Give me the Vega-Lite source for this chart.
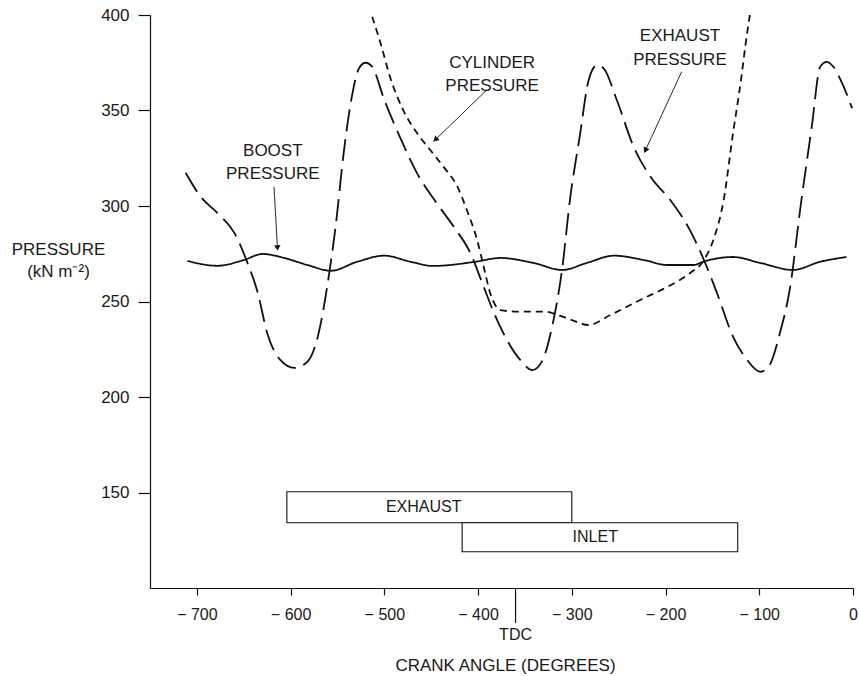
{
  "$schema": "https://vega.github.io/schema/vega-lite/v6.json",
  "width": 703,
  "height": 573,
  "autosize": {"type": "none"},
  "padding": {"left": 150, "top": 15, "right": 6, "bottom": 88},
  "background": "white",
  "config": {
    "view": {"stroke": null},
    "font": "Liberation Sans",
    "axis": {
      "domainColor": "#111", "tickColor": "#111", "domainWidth": 1.2, "tickWidth": 1.2,
      "labelColor": "#1a1a1a", "labelFont": "Liberation Sans", "labelFontSize": 16,
      "titleFont": "Liberation Sans", "titleFontSize": 16, "titleFontWeight": "normal", "titleColor": "#1a1a1a",
      "grid": false
    }
  },
  "datasets": {
    "curves": [
      {"series": "boost", "angle": -710, "pressure": 271.2},
      {"series": "boost", "angle": -678, "pressure": 268.7},
      {"series": "boost", "angle": -650, "pressure": 271.7},
      {"series": "boost", "angle": -630, "pressure": 274.9},
      {"series": "boost", "angle": -607, "pressure": 272.8},
      {"series": "boost", "angle": -582, "pressure": 269.1},
      {"series": "boost", "angle": -557, "pressure": 266.1},
      {"series": "boost", "angle": -529, "pressure": 270.8},
      {"series": "boost", "angle": -500, "pressure": 274.0},
      {"series": "boost", "angle": -472, "pressure": 270.8},
      {"series": "boost", "angle": -448, "pressure": 268.6},
      {"series": "boost", "angle": -403, "pressure": 270.8},
      {"series": "boost", "angle": -376, "pressure": 272.8},
      {"series": "boost", "angle": -341, "pressure": 270.2},
      {"series": "boost", "angle": -310, "pressure": 266.5},
      {"series": "boost", "angle": -284, "pressure": 270.2},
      {"series": "boost", "angle": -255, "pressure": 274.0},
      {"series": "boost", "angle": -223, "pressure": 271.7},
      {"series": "boost", "angle": -198, "pressure": 269.1},
      {"series": "boost", "angle": -170, "pressure": 269.1},
      {"series": "boost", "angle": -160, "pressure": 270.8},
      {"series": "boost", "angle": -128, "pressure": 273.3},
      {"series": "boost", "angle": -99, "pressure": 270.2},
      {"series": "boost", "angle": -64, "pressure": 266.5},
      {"series": "boost", "angle": -35, "pressure": 270.8},
      {"series": "boost", "angle": -7, "pressure": 273.3},
      {"series": "exhaust", "angle": -712, "pressure": 317.4},
      {"series": "exhaust", "angle": -696, "pressure": 304.9},
      {"series": "exhaust", "angle": -678, "pressure": 296.3},
      {"series": "exhaust", "angle": -660, "pressure": 285.9},
      {"series": "exhaust", "angle": -646, "pressure": 270.2},
      {"series": "exhaust", "angle": -635, "pressure": 254.5},
      {"series": "exhaust", "angle": -625, "pressure": 233.5},
      {"series": "exhaust", "angle": -611, "pressure": 219.4},
      {"series": "exhaust", "angle": -596, "pressure": 215.2},
      {"series": "exhaust", "angle": -582, "pressure": 218.5},
      {"series": "exhaust", "angle": -571, "pressure": 231.6},
      {"series": "exhaust", "angle": -561, "pressure": 257.7},
      {"series": "exhaust", "angle": -552, "pressure": 289.2},
      {"series": "exhaust", "angle": -543, "pressure": 329.3},
      {"series": "exhaust", "angle": -534, "pressure": 359.0},
      {"series": "exhaust", "angle": -527, "pressure": 372.1},
      {"series": "exhaust", "angle": -520, "pressure": 375.0},
      {"series": "exhaust", "angle": -513, "pressure": 372.9},
      {"series": "exhaust", "angle": -500, "pressure": 355.5},
      {"series": "exhaust", "angle": -482, "pressure": 334.6},
      {"series": "exhaust", "angle": -465, "pressure": 317.1},
      {"series": "exhaust", "angle": -444, "pressure": 301.4},
      {"series": "exhaust", "angle": -426, "pressure": 289.2},
      {"series": "exhaust", "angle": -408, "pressure": 275.2},
      {"series": "exhaust", "angle": -394, "pressure": 257.7},
      {"series": "exhaust", "angle": -383, "pressure": 244.0},
      {"series": "exhaust", "angle": -373, "pressure": 233.4},
      {"series": "exhaust", "angle": -355, "pressure": 219.4},
      {"series": "exhaust", "angle": -342, "pressure": 214.1},
      {"series": "exhaust", "angle": -332, "pressure": 218.5},
      {"series": "exhaust", "angle": -321, "pressure": 236.8},
      {"series": "exhaust", "angle": -310, "pressure": 268.2},
      {"series": "exhaust", "angle": -302, "pressure": 303.1},
      {"series": "exhaust", "angle": -291, "pressure": 338.1},
      {"series": "exhaust", "angle": -282, "pressure": 366.0},
      {"series": "exhaust", "angle": -273, "pressure": 373.8},
      {"series": "exhaust", "angle": -266, "pressure": 372.1},
      {"series": "exhaust", "angle": -252, "pressure": 355.5},
      {"series": "exhaust", "angle": -234, "pressure": 331.0},
      {"series": "exhaust", "angle": -216, "pressure": 315.3},
      {"series": "exhaust", "angle": -195, "pressure": 303.1},
      {"series": "exhaust", "angle": -174, "pressure": 287.4},
      {"series": "exhaust", "angle": -159, "pressure": 271.7},
      {"series": "exhaust", "angle": -145, "pressure": 254.3},
      {"series": "exhaust", "angle": -128, "pressure": 231.6},
      {"series": "exhaust", "angle": -113, "pressure": 219.4},
      {"series": "exhaust", "angle": -99, "pressure": 213.2},
      {"series": "exhaust", "angle": -90, "pressure": 215.9},
      {"series": "exhaust", "angle": -78, "pressure": 233.4},
      {"series": "exhaust", "angle": -67, "pressure": 257.7},
      {"series": "exhaust", "angle": -56, "pressure": 299.6},
      {"series": "exhaust", "angle": -44, "pressure": 341.5},
      {"series": "exhaust", "angle": -35, "pressure": 372.9},
      {"series": "exhaust", "angle": -28, "pressure": 375.5},
      {"series": "exhaust", "angle": -21, "pressure": 372.9},
      {"series": "exhaust", "angle": -10, "pressure": 362.5},
      {"series": "exhaust", "angle": -1, "pressure": 351.2},
      {"series": "cylinder", "angle": -513, "pressure": 399.1},
      {"series": "cylinder", "angle": -504, "pressure": 385.2},
      {"series": "cylinder", "angle": -494, "pressure": 367.7},
      {"series": "cylinder", "angle": -480, "pressure": 350.3},
      {"series": "cylinder", "angle": -465, "pressure": 338.1},
      {"series": "cylinder", "angle": -451, "pressure": 329.3},
      {"series": "cylinder", "angle": -437, "pressure": 320.6},
      {"series": "cylinder", "angle": -422, "pressure": 310.1},
      {"series": "cylinder", "angle": -412, "pressure": 297.9},
      {"series": "cylinder", "angle": -401, "pressure": 282.2},
      {"series": "cylinder", "angle": -394, "pressure": 268.2},
      {"series": "cylinder", "angle": -387, "pressure": 254.3},
      {"series": "cylinder", "angle": -376, "pressure": 245.5},
      {"series": "cylinder", "angle": -358, "pressure": 244.7},
      {"series": "cylinder", "angle": -330, "pressure": 244.7},
      {"series": "cylinder", "angle": -305, "pressure": 241.2},
      {"series": "cylinder", "angle": -282, "pressure": 237.7},
      {"series": "cylinder", "angle": -259, "pressure": 242.9},
      {"series": "cylinder", "angle": -227, "pressure": 250.8},
      {"series": "cylinder", "angle": -198, "pressure": 257.7},
      {"series": "cylinder", "angle": -174, "pressure": 264.8},
      {"series": "cylinder", "angle": -159, "pressure": 271.7},
      {"series": "cylinder", "angle": -149, "pressure": 282.2},
      {"series": "cylinder", "angle": -138, "pressure": 303.1},
      {"series": "cylinder", "angle": -128, "pressure": 338.1},
      {"series": "cylinder", "angle": -120, "pressure": 364.2},
      {"series": "cylinder", "angle": -113, "pressure": 390.4},
      {"series": "cylinder", "angle": -110, "pressure": 400.0}
    ],
    "boxes": [
      {"name": "EXHAUST", "angle": -604, "angle2": -300, "pressure": 134.2, "pressure2": 150.4, "labelAngle": -458, "labelPressure": 142.3},
      {"name": "INLET", "angle": -417, "angle2": -123, "pressure": 119.0, "pressure2": 134.2, "labelAngle": -275, "labelPressure": 126.6}
    ],
    "notes": [
      {"text": "BOOST", "angle": -619, "pressure": 328.8},
      {"text": "PRESSURE", "angle": -619, "pressure": 316.5},
      {"text": "CYLINDER", "angle": -385, "pressure": 375.0},
      {"text": "PRESSURE", "angle": -385, "pressure": 362.9},
      {"text": "EXHAUST", "angle": -184.6, "pressure": 389.1},
      {"text": "PRESSURE", "angle": -184.6, "pressure": 376.4}
    ],
    "arrows": [
      {"target": "boost", "angle": -617.7, "pressure": 310.0, "angle2": -614.0, "pressure2": 278.0, "heading": -3.5},
      {"target": "cylinder", "angle": -390.8, "pressure": 360.7, "angle2": -445.6, "pressure2": 334.7, "heading": 45.9},
      {"target": "exhaust", "angle": -182.8, "pressure": 370.3, "angle2": -221.5, "pressure2": 329.1, "heading": 24.7}
    ],
    "tdc": [
      {"text": "TDC", "angle": -360, "pressure": 100, "pressure2": 81.7, "labelPressure": 75.5}
    ]
  },
  "layer": [
    {
      "data": {"name": "curves"},
      "mark": {"type": "line", "interpolate": "monotone", "strokeWidth": 1.8, "color": "#111", "clip": true},
      "encoding": {
        "x": {"field": "angle", "type": "quantitative",
              "scale": {"domain": [-750, 0], "nice": false, "zero": false},
              "axis": {"values": [-700, -600, -500, -400, -300, -200, -100, 0], "tickSize": 7, "labelPadding": 11,
                       "labelExpr": "datum.value == 0 ? '0' : '− ' + abs(datum.value)",
                       "labelFlush": false, "labelOverlap": false,
                       "title": "CRANK   ANGLE   (DEGREES)", "titleFontSize": 17, "titleX": 355, "titleY": 82, "titleBaseline": "alphabetic"}},
        "y": {"field": "pressure", "type": "quantitative",
              "scale": {"domain": [100, 400], "nice": false, "zero": false},
              "axis": {"values": [150, 200, 250, 300, 350, 400], "tickSize": 12, "labelPadding": 9, "labelFontSize": 17,
                       "labelFlush": false, "labelOverlap": false,
                       "title": ["PRESSURE", "(kN m⁻²)"], "titleAngle": 0, "titleAlign": "center",
                       "titleX": -92, "titleY": 239, "titleBaseline": "alphabetic", "titleLineHeight": 22, "titleFontSize": 17}},
        "strokeDash": {"field": "series", "type": "nominal",
                       "scale": {"domain": ["boost", "exhaust", "cylinder"], "range": [[1, 0], [22, 8], [7, 5]]},
                       "legend": null}
      }
    },
    {
      "data": {"name": "boxes"},
      "mark": {"type": "rect", "fill": "white", "stroke": "#111", "strokeWidth": 1.1},
      "encoding": {
        "x": {"field": "angle", "type": "quantitative"},
        "x2": {"field": "angle2"},
        "y": {"field": "pressure", "type": "quantitative"},
        "y2": {"field": "pressure2"}
      }
    },
    {
      "data": {"name": "boxes"},
      "mark": {"type": "text", "font": "Liberation Sans", "fontSize": 16, "color": "#1a1a1a", "baseline": "middle", "align": "center"},
      "encoding": {
        "x": {"field": "labelAngle", "type": "quantitative"},
        "y": {"field": "labelPressure", "type": "quantitative"},
        "text": {"field": "name"}
      }
    },
    {
      "data": {"name": "notes"},
      "mark": {"type": "text", "font": "Liberation Sans", "fontSize": 17, "color": "#1a1a1a", "baseline": "middle", "align": "center"},
      "encoding": {
        "x": {"field": "angle", "type": "quantitative"},
        "y": {"field": "pressure", "type": "quantitative"},
        "text": {"field": "text"}
      }
    },
    {
      "data": {"name": "arrows"},
      "mark": {"type": "rule", "color": "#111", "strokeWidth": 0.9},
      "encoding": {
        "x": {"field": "angle", "type": "quantitative"},
        "y": {"field": "pressure", "type": "quantitative"},
        "x2": {"field": "angle2"},
        "y2": {"field": "pressure2"}
      }
    },
    {
      "data": {"name": "arrows"},
      "mark": {"type": "point", "shape": "triangle-down", "filled": true, "color": "#111", "size": 40, "opacity": 1},
      "encoding": {
        "x": {"field": "angle2", "type": "quantitative"},
        "y": {"field": "pressure2", "type": "quantitative"},
        "angle": {"field": "heading", "type": "quantitative", "scale": null}
      }
    },
    {
      "data": {"name": "tdc"},
      "mark": {"type": "rule", "color": "#111", "strokeWidth": 1.2},
      "encoding": {
        "x": {"field": "angle", "type": "quantitative"},
        "y": {"field": "pressure", "type": "quantitative"},
        "y2": {"field": "pressure2"}
      }
    },
    {
      "data": {"name": "tdc"},
      "mark": {"type": "text", "font": "Liberation Sans", "fontSize": 16, "color": "#1a1a1a", "baseline": "middle", "align": "center"},
      "encoding": {
        "x": {"field": "angle", "type": "quantitative"},
        "y": {"field": "labelPressure", "type": "quantitative"},
        "text": {"field": "text"}
      }
    }
  ]
}
